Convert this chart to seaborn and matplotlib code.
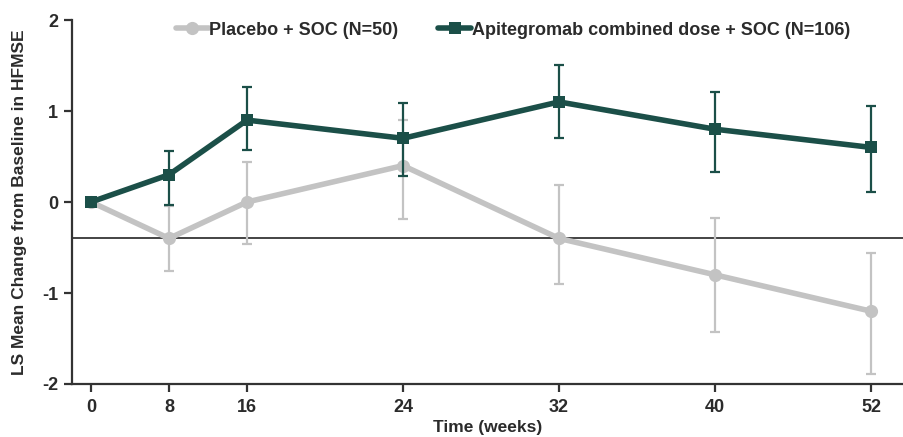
import pandas as pd
import matplotlib
matplotlib.use("Agg")
import matplotlib.pyplot as plt
import seaborn as sns

sns.set_style("white")
plt.rcParams["font.family"] = ["Liberation Sans", "DejaVu Sans"]

# Data
weeks = [0, 8, 16, 24, 32, 40, 52]
placebo_mean = [0.0, -0.4, 0.0, 0.4, -0.4, -0.8, -1.2]
placebo_lo = [0.0, -0.76, -0.46, -0.19, -0.90, -1.43, -1.89]
placebo_hi = [0.0, -0.04, 0.44, 0.90, 0.19, -0.18, -0.56]
apit_mean = [0.0, 0.3, 0.9, 0.7, 1.1, 0.8, 0.6]
apit_lo = [0.0, -0.03, 0.57, 0.29, 0.70, 0.33, 0.11]
apit_hi = [0.0, 0.56, 1.26, 1.09, 1.51, 1.21, 1.05]
ref_line = -0.4

placebo_label = "Placebo + SOC (N=50)"
apit_label = "Apitegromab combined dose + SOC (N=106)"

# axis slots: weeks 0, 8, 16 tightly spaced, then every 8 weeks = 2 slots
slot = {0: 0, 8: 1, 16: 2, 24: 4, 32: 6, 40: 8, 52: 10}

GRAY = "#c3c3c3"
TEAL = "#1b4f48"
TXT = "#2b2b2b"

df = pd.DataFrame({
    "pos": [slot[w] for w in weeks] * 2,
    "mean": placebo_mean + apit_mean,
    "lo": placebo_lo + apit_lo,
    "hi": placebo_hi + apit_hi,
    "group": [placebo_label] * 7 + [apit_label] * 7,
})

fig = plt.figure(figsize=(9.04, 4.37), dpi=100)
ax = fig.add_axes([72 / 904, 53 / 437, 1 - 72 / 904, 364 / 437])

ax.axhline(ref_line, color="#111111", lw=1.1, zorder=1)

styles = {placebo_label: (GRAY, "o", 9.5, 1.6),
          apit_label: (TEAL, "s", 9, 1.6)}
for name, sub in df.groupby("group", sort=False):
    color, mk, ms, elw = styles[name]
    err = [sub["mean"] - sub["lo"], sub["hi"] - sub["mean"]]
    ax.errorbar(sub["pos"], sub["mean"], yerr=err, fmt="none",
                ecolor=color, elinewidth=elw, capsize=3.5, capthick=elw,
                zorder=2 if name == placebo_label else 4)
    sns.lineplot(data=sub, x="pos", y="mean", ax=ax, color=color,
                 marker=mk, markersize=ms, markeredgewidth=0, lw=4,
                 label=name, zorder=3 if name == placebo_label else 5)

ax.set_xlim((72 - 91) / 78, (904 - 91) / 78)
ax.set_ylim(-2, 2)
ax.set_xticks([slot[w] for w in weeks])
ax.set_xticklabels([str(w) for w in weeks])
ax.set_yticks([-2, -1, 0, 1, 2])
ax.set_yticklabels(["-2", "-1", "0", "1", "2"])

for lab in ax.get_xticklabels() + ax.get_yticklabels():
    lab.set_fontweight("bold")
    lab.set_fontsize(13)
    lab.set_color(TXT)

ax.set_xlabel("Time (weeks)", fontsize=12.5, fontweight="bold", color=TXT,
              labelpad=3)
ax.set_ylabel("LS Mean Change from Baseline in HFMSE", fontsize=12.5,
              fontweight="bold", color=TXT, labelpad=11)

for s in ["top", "right"]:
    ax.spines[s].set_visible(False)
for s in ["left", "bottom"]:
    ax.spines[s].set_color("#333333")
    ax.spines[s].set_linewidth(1.6)
ax.tick_params(axis="both", direction="out", length=6, width=1.6,
               color="#333333", left=True, bottom=True, pad=4)
ax.tick_params(axis="x", pad=5)

leg = ax.legend(loc="upper center", bbox_to_anchor=(0.53, 1.04), ncol=2,
                frameon=False, handlelength=1.8, handletextpad=0.05,
                columnspacing=2.2, prop={"weight": "bold", "size": 13})
for t in leg.get_texts():
    t.set_color(TXT)

fig.savefig("out.png", dpi=100)
